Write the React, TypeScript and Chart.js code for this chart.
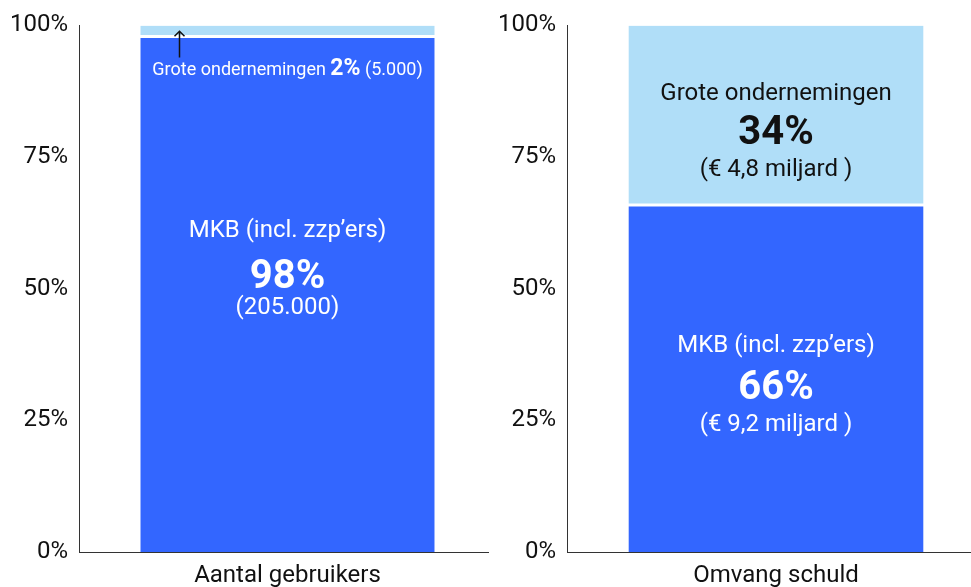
import React, { useEffect, useRef } from "react";
import { Chart, registerables } from "chart.js";

Chart.register(...registerables);

// ---- data ----
const leftCategories = ["Aantal gebruikers"];
const rightCategories = ["Omvang schuld"];
const mkbLeft = [98];
const groteLeft = [2];
const mkbRight = [66];
const groteRight = [34];
const yTickValues = [0, 25, 50, 75, 100];

const DARK = "#3366ff";
const LIGHT = "#b0def8";
const FONT = "Roboto";

type Line = { text: string; value: number; size: number; bold?: boolean; color: string };

const leftLabels: Line[] = [
  { text: "MKB (incl. zzp\u2019ers)", value: 61.0, size: 24, color: "#ffffff" },
  { text: "98%", value: 52.0, size: 40, bold: true, color: "#ffffff" },
  { text: "(205.000)", value: 46.3, size: 24, color: "#ffffff" },
];
const rightLabels: Line[] = [
  { text: "Grote ondernemingen", value: 87.0, size: 24, color: "#111111" },
  { text: "34%", value: 79.3, size: 40, bold: true, color: "#111111" },
  { text: "(\u20ac 4,8 miljard )", value: 72.5, size: 24, color: "#111111" },
  { text: "MKB (incl. zzp\u2019ers)", value: 39.1, size: 24, color: "#ffffff" },
  { text: "66%", value: 30.9, size: 40, bold: true, color: "#ffffff" },
  { text: "(\u20ac 9,2 miljard )", value: 24.2, size: 24, color: "#ffffff" },
];
const smallNote = {
  parts: [
    { text: "Grote ondernemingen ", size: 18, bold: false },
    { text: "2%", size: 23, bold: true },
    { text: " (5.000)", size: 18, bold: false },
  ],
  baselineValue: 90.6,
  arrowFrom: 93.9,
  arrowTo: 98.9,
  arrowOffset: 39,
};

function makeLabelPlugin(lines: Line[], withNote: boolean, axisLen: number) {
  return {
    id: "barLabels",
    afterDatasetsDraw(chart: any) {
      const ctx = chart.ctx;
      const y = chart.scales.y;
      const bar = chart.getDatasetMeta(0).data[0];
      const cx = bar.x;
      ctx.save();
      // x axis baseline
      const y0 = Math.round(y.getPixelForValue(0)) + 0.5;
      ctx.strokeStyle = "#333333";
      ctx.lineWidth = 1;
      ctx.beginPath();
      ctx.moveTo(chart.chartArea.left, y0);
      ctx.lineTo(chart.chartArea.left + axisLen, y0);
      ctx.stroke();

      ctx.textAlign = "center";
      ctx.textBaseline = "middle";
      for (const l of lines) {
        ctx.font = `${l.bold ? "bold " : ""}${l.size}px ${FONT}`;
        ctx.fillStyle = l.color;
        ctx.fillText(l.text, cx, y.getPixelForValue(l.value));
      }
      if (withNote) {
        ctx.textAlign = "left";
        ctx.textBaseline = "alphabetic";
        let total = 0;
        const widths: number[] = [];
        for (const p of smallNote.parts) {
          ctx.font = `${p.bold ? "bold " : ""}${p.size}px ${FONT}`;
          const w = ctx.measureText(p.text).width;
          widths.push(w);
          total += w;
        }
        let x = cx - total / 2;
        const by = y.getPixelForValue(smallNote.baselineValue);
        ctx.fillStyle = "#ffffff";
        smallNote.parts.forEach((p, i) => {
          ctx.font = `${p.bold ? "bold " : ""}${p.size}px ${FONT}`;
          ctx.fillText(p.text, x, by);
          x += widths[i];
        });
        // arrow
        const half = bar.width / 2;
        const ax = Math.round(cx - half + smallNote.arrowOffset) + 0.5;
        const y1 = y.getPixelForValue(smallNote.arrowFrom);
        const y2 = y.getPixelForValue(smallNote.arrowTo);
        ctx.strokeStyle = "#111111";
        ctx.lineWidth = 1.5;
        ctx.beginPath();
        ctx.moveTo(ax, y1);
        ctx.lineTo(ax, y2);
        ctx.moveTo(ax - 5, y2 + 5);
        ctx.lineTo(ax, y2);
        ctx.lineTo(ax + 5, y2 + 5);
        ctx.stroke();
      }
      ctx.restore();
    },
  };
}

function buildConfig(
  categories: string[],
  mkb: number[],
  grote: number[],
  yWidth: number,
  padRight: number,
  lines: Line[],
  withNote: boolean
): any {
  return {
    type: "bar",
    data: {
      labels: categories,
      datasets: [
        {
          label: "MKB (incl. zzp'ers)",
          data: mkb,
          backgroundColor: DARK,
          borderColor: "#ffffff",
          borderWidth: { top: 2, left: 0, right: 0, bottom: 0 },
          borderSkipped: false,
        },
        {
          label: "Grote ondernemingen",
          data: grote,
          backgroundColor: LIGHT,
          borderColor: "#ffffff",
          borderWidth: { top: 0, left: 0, right: 0, bottom: 1 },
          borderSkipped: false,
        },
      ],
    },
    options: {
      animation: false,
      responsive: false,
      maintainAspectRatio: false,
      layout: { padding: { top: 24, right: padRight, left: 0, bottom: 0 } },
      plugins: { legend: { display: false }, tooltip: { enabled: false } },
      datasets: { bar: { categoryPercentage: 1, barPercentage: 0.706 } },
      scales: {
        x: {
          stacked: true,
          grid: { display: false, drawTicks: false },
          border: { display: false },
          ticks: { color: "#111111", font: { family: FONT, size: 24 }, padding: 10 },
          afterFit: (s: any) => {
            s.height = 35;
          },
        },
        y: {
          stacked: true,
          min: 0,
          max: 100,
          grid: { display: false, drawTicks: false },
          border: { display: true, color: "#333333", width: 1 },
          afterBuildTicks: (s: any) => {
            s.ticks = yTickValues.map((v) => ({ value: v }));
          },
          ticks: {
            color: "#111111",
            font: { family: FONT, size: 24 },
            padding: 11,
            callback: (v: any) => `${v}%`,
          },
          afterFit: (s: any) => {
            s.width = yWidth;
          },
        },
      },
    },
    plugins: [makeLabelPlugin(lines, withNote, 410)],
  };
}

export default function App() {
  const leftRef = useRef<HTMLCanvasElement>(null);
  const rightRef = useRef<HTMLCanvasElement>(null);

  useEffect(() => {
    const c1 = new Chart(
      leftRef.current!,
      buildConfig(leftCategories, mkbLeft, groteLeft, 79, 1, leftLabels, true)
    );
    const c2 = new Chart(
      rightRef.current!,
      buildConfig(rightCategories, mkbRight, groteRight, 77, 3, rightLabels, false)
    );
    return () => {
      c1.destroy();
      c2.destroy();
    };
  }, []);

  return (
    <div
      style={{
        position: "absolute",
        left: 0,
        top: 0,
        width: 971,
        height: 587,
        overflow: "hidden",
        background: "#ffffff",
      }}
    >
      <canvas
        ref={leftRef}
        width={497}
        height={587}
        style={{ position: "absolute", left: 0, top: 0, width: 497, height: 587 }}
      />
      <canvas
        ref={rightRef}
        width={498}
        height={587}
        style={{ position: "absolute", left: 490, top: 0, width: 498, height: 587 }}
      />
    </div>
  );
}
